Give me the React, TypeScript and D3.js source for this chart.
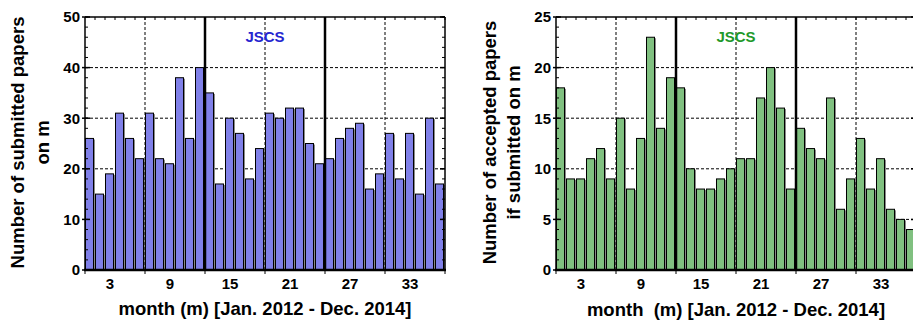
import React from 'react';
import * as d3 from 'd3';

// Monthly counts, Jan. 2012 (m=1) to Dec. 2014 (m=36)
const MONTHS = d3.range(1, 37);
const SUBMITTED = [26, 15, 19, 31, 26, 22, 31, 22, 21, 38, 26, 40, 35, 17, 30, 27, 18, 24,
  31, 30, 32, 32, 25, 21, 22, 26, 28, 29, 16, 19, 27, 18, 27, 15, 30, 17];
const ACCEPTED = [18, 9, 9, 11, 12, 9, 15, 8, 13, 23, 14, 19, 18, 10, 8, 8, 9, 10,
  11, 11, 17, 20, 16, 8, 14, 12, 11, 17, 6, 9, 13, 8, 11, 6, 5, 4];
const X_TICKS = [3, 9, 15, 21, 27, 33];
const X_GRID = [6.5, 18.5, 30.5];
const YEAR_BREAKS = [12.5, 24.5];

const FONT = '"Liberation Sans", Arial, sans-serif';
const TOP = 17;
const BOTTOM = 270;

type PanelProps = {
  left: number;
  values: number[];
  yMax: number;
  yMajor: number[];
  yMinor: number[];
  fill: string;
  labelColor: string;
  yTitle: string[];
  yTitleX: number[];
  xTitle: string;
  xTitleY: number;
};

function Panel({ left, values, yMax, yMajor, yMinor, fill, labelColor, yTitle, yTitleX, xTitle, xTitleY }: PanelProps) {
  const x = d3.scaleLinear().domain([0.5, 36.5]).range([left, left + 360]);
  const y = d3.scaleLinear().domain([0, yMax]).range([BOTTOM, TOP]);
  const x0 = x(0.5);
  const x1 = x(36.5);
  const midY = (TOP + BOTTOM) / 2 - 1;

  return (
    <g>
      {/* horizontal grid behind bars */}
      {yMajor.filter((v) => v > 0 && v < yMax).map((v) => (
        <line key={'hg' + v} x1={x0} x2={x1} y1={y(v)} y2={y(v)}
          stroke="#000" strokeWidth={1} strokeDasharray="3,2" />
      ))}

      {/* bars with grey shadow */}
      {MONTHS.map((m, i) => (
        <g key={'b' + m}>
          <rect x={x(m - 0.5) + 2} y={y(values[i]) + 1} width={8} height={BOTTOM - y(values[i]) - 1}
            fill="#8a8a8a" />
          <rect x={x(m - 0.5) + 0.5} y={y(values[i])} width={8} height={BOTTOM - y(values[i])}
            fill={fill} stroke="#000" strokeWidth={1} />
        </g>
      ))}

      {/* vertical grid over bars */}
      {X_GRID.map((v) => (
        <line key={'vg' + v} x1={x(v)} x2={x(v)} y1={TOP} y2={BOTTOM}
          stroke="#000" strokeWidth={1} strokeDasharray="3,2" />
      ))}
      {YEAR_BREAKS.map((v) => (
        <line key={'yb' + v} x1={x(v)} x2={x(v)} y1={TOP} y2={BOTTOM}
          stroke="#000" strokeWidth={2.5} />
      ))}

      {/* frame */}
      <line x1={x0} x2={x1} y1={TOP} y2={TOP} stroke="#000" strokeWidth={1.5} />
      <line x1={x0} x2={x0} y1={TOP} y2={BOTTOM} stroke="#000" strokeWidth={1.5} />
      <line x1={x1} x2={x1} y1={TOP} y2={BOTTOM} stroke="#000" strokeWidth={1.5} />
      <line x1={x0 - 1} x2={x1 + 1} y1={BOTTOM} y2={BOTTOM} stroke="#000" strokeWidth={2.5} />

      {/* top minor ticks */}
      {MONTHS.map((m) => (
        <line key={'tt' + m} x1={x(m + 0.5)} x2={x(m + 0.5)} y1={TOP} y2={TOP + 3}
          stroke="#000" strokeWidth={1} />
      ))}
      {/* bottom ticks */}
      {[0.5, ...X_GRID, ...YEAR_BREAKS, 36.5].map((v) => (
        <line key={'bt' + v} x1={x(v)} x2={x(v)} y1={BOTTOM} y2={BOTTOM + 4}
          stroke="#000" strokeWidth={1} />
      ))}
      {/* y ticks on both sides */}
      {yMinor.map((v) => (
        <g key={'ym' + v}>
          <line x1={x0} x2={x0 + 3} y1={y(v)} y2={y(v)} stroke="#000" strokeWidth={1} />
          <line x1={x1} x2={x1 - 3} y1={y(v)} y2={y(v)} stroke="#000" strokeWidth={1} />
        </g>
      ))}
      {yMajor.map((v) => (
        <g key={'yM' + v}>
          <line x1={x0 - 3} x2={x0 + 5} y1={y(v)} y2={y(v)} stroke="#000" strokeWidth={1.5} />
          <line x1={x1} x2={x1 - 5} y1={y(v)} y2={y(v)} stroke="#000" strokeWidth={1.5} />
        </g>
      ))}

      {/* tick labels */}
      {yMajor.map((v) => (
        <text key={'yl' + v} x={x0 - 5} y={y(v)} dy="0.36em" textAnchor="end"
          fontFamily={FONT} fontWeight="bold" fontSize={15} fill="#000">{v}</text>
      ))}
      {X_TICKS.map((v) => (
        <text key={'xl' + v} x={x(v)} y={288.5} textAnchor="middle"
          fontFamily={FONT} fontWeight="bold" fontSize={15} fill="#000">{v}</text>
      ))}

      {/* journal label */}
      <text x={x(18.5)} y={42} textAnchor="middle" fontFamily={FONT} fontWeight="bold"
        fontSize={15} fill={labelColor}>JSCS</text>

      {/* axis titles */}
      <text x={(x0 + x1) / 2} y={xTitleY} textAnchor="middle" fontFamily={FONT}
        fontWeight="bold" fontSize={18.5} fill="#000" xmlSpace="preserve">{xTitle}</text>
      {yTitle.map((t, i) => (
        <text key={'yt' + i} transform={`translate(${yTitleX[i]},${midY}) rotate(-90)`}
          textAnchor="middle" fontFamily={FONT} fontWeight="bold" fontSize={18.5} fill="#000">{t}</text>
      ))}
    </g>
  );
}

export default function App() {
  return (
    <svg width={913} height={320} style={{ position: 'absolute', left: 0, top: 0, background: '#fff' }}>
      <rect width={913} height={320} fill="#fff" />
      <Panel
        left={85}
        values={SUBMITTED}
        yMax={50}
        yMajor={d3.range(0, 51, 10)}
        yMinor={d3.range(0, 51, 2)}
        fill="#8080e8"
        labelColor="#2626d0"
        yTitle={['Number of submitted papers', 'on m']}
        yTitleX={[24, 49]}
        xTitle="month (m) [Jan. 2012 - Dec. 2014]"
        xTitleY={314.5}
      />
      <Panel
        left={556}
        values={ACCEPTED}
        yMax={25}
        yMajor={d3.range(0, 26, 5)}
        yMinor={d3.range(0, 26, 1)}
        fill="#80c080"
        labelColor="#22992a"
        yTitle={['Number of accepted papers', 'if submitted on m']}
        yTitleX={[496, 520]}
        xTitle="month  (m) [Jan. 2012 - Dec. 2014]"
        xTitleY={315.5}
      />
    </svg>
  );
}
